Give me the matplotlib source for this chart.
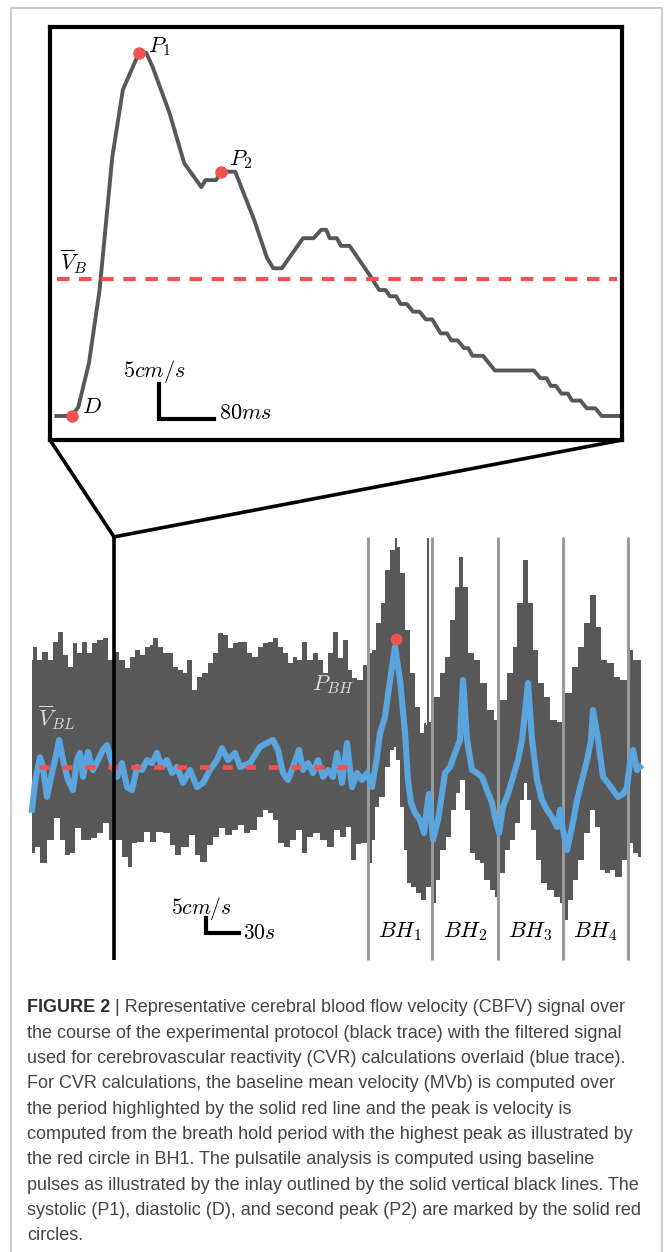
import matplotlib.pyplot as plt
import numpy as np
from matplotlib.patches import ConnectionPatch, Rectangle

plt.rcParams['mathtext.fontset'] = 'cm'

# single baseline pulse shown in the inlay (time in ms, velocity in cm/s)
pulse_t = [-22.7, 0, 9.3, 24.7, 40.1, 58.6, 74.0, 86.4, 97.5, 107.9, 117.1, 141.8, 163.3, 188.1, 194.2,
           209.6, 217.0, 237.4, 265.0, 283.6, 292.8, 305.2, 336.0, 351.4, 362.5, 369.9, 374.8, 385.3, 391.4,
           403.8, 434.6, 446.8, 456.1, 462.3, 471.6, 477.7, 487.0, 496.1, 505.5, 514.6, 523.9, 536.3, 545.5,
           551.7, 560.9, 570.2, 576.3, 582.5, 597.8, 615.1, 671.9, 681.2, 690.3, 696.4, 703.9, 711.9, 721.2,
           727.3, 739.6, 748.9, 761.2, 770.5, 795.1]
pulse_v = [40.0, 40.0, 41.3, 47.6, 58.0, 77.0, 86.6, 89.4, 91.9, 91.9, 89.9, 83.3, 76.1, 72.7, 73.7,
           73.7, 74.9, 74.9, 68.0, 62.6, 61.1, 61.1, 65.4, 65.4, 66.6, 66.6, 65.4, 65.4, 64.3,
           64.3, 59.9, 58.0, 58.0, 57.1, 57.1, 56.0, 56.0, 54.9, 54.9, 53.8, 53.8, 51.8, 51.8,
           50.8, 50.8, 49.7, 49.7, 48.6, 48.6, 46.5, 46.5, 45.4, 45.4, 44.3, 44.3, 43.2, 43.2,
           42.2, 42.2, 41.1, 41.1, 40.0, 40.0]
pulse_mean = 59.6
pulse_span = [-21.8, 792.7]
mark_t = [0.0, 97.5, 217.0]
mark_v = [40.0, 91.9, 74.9]
mark_names = ['$D$', '$P_1$', '$P_2$']

# whole protocol: envelope of the raw CBFV trace (time in s, velocity in cm/s)
up_t = [0.9, 3.6, 8.2, 12.7, 17.3, 21.8, 26.4, 30.9, 35.5, 40.0, 44.5, 49.1, 53.6, 58.2, 62.7, 67.3, 71.8,
        78.2, 82.7, 87.3, 91.8, 96.4, 100.9, 105.5, 110.0, 112.7, 117.3, 121.8, 126.4, 130.9, 135.5, 140.0,
        144.5, 149.1, 153.6, 158.2, 162.7, 167.3, 171.8, 176.4, 180.9, 185.5, 190.0, 194.5, 199.1, 203.6,
        208.2, 212.7, 217.3, 221.8, 226.4, 230.9, 235.5, 240.0, 244.5, 249.1, 253.6, 258.2, 262.7, 267.3,
        271.8, 276.4, 280.9, 285.5, 290.0, 294.5, 299.1, 303.6,
        308.2, 310.9, 315.5, 320.0, 324.5, 329.1, 331.8, 333.6, 337.3, 341.8, 346.4, 350.9, 355.5, 358.2,
        360.0, 360.3, 361.8, 362.1, 364.5, 369.1, 373.6, 378.2, 382.7, 387.3, 390.9, 394.5, 399.1, 405.5,
        410.9, 417.3, 423.6, 429.1, 435.5, 440.0, 444.5, 449.1, 453.6, 458.2, 462.7, 469.1, 474.5, 482.7,
        488.2, 494.5, 499.1, 505.5, 510.9, 515.5, 520.0, 526.4, 532.7, 538.2, 544.5, 549.1, 554.5]
up_v = [95.7, 100.0, 95.7, 98.3, 95.7, 101.7, 105.0, 97.3, 93.3, 101.3, 98.0, 101.7, 98.0, 101.3, 102.3, 103.0, 95.7,
        98.3, 95.7, 93.0, 96.7, 99.0, 97.3, 100.0, 100.7, 103.0, 100.0, 98.0, 98.0, 93.3, 92.3, 91.3,
        95.7, 85.7, 90.0, 91.3, 94.7, 98.0, 104.7, 104.0, 99.7, 101.3, 101.7, 101.7, 98.0, 96.7,
        100.0, 101.3, 101.7, 103.0, 100.0, 98.0, 94.7, 96.7, 95.7, 101.7, 95.7, 98.0, 95.7, 91.3,
        98.0, 105.0, 96.3, 102.3, 92.3, 89.7, 89.0, 94.0,
        98.0, 99.0, 108.0, 114.7, 125.7, 132.3, 136.3, 133.3, 124.7, 105.7, 91.3, 80.0, 71.3, 74.7,
        74.0, 136.3, 136.3, 75.0, 75.7, 83.3, 91.3, 96.7, 109.0, 120.0, 130.0, 120.0, 98.0, 95.7,
        88.0, 79.0, 75.7, 82.3, 91.3, 100.0, 114.7, 129.0, 114.7, 99.0, 88.0, 83.3, 75.7, 75.0,
        84.7, 93.3, 100.0, 108.0, 117.3, 106.7, 95.7, 94.7, 90.0, 89.0, 99.0, 95.7, 95.7]
lo_t = [0.9, 5.5, 10.9, 17.3, 24.5, 29.1, 33.6, 38.2, 42.7, 47.3, 51.8, 56.4, 62.7, 69.1, 73.6, 79.1, 85.5,
        90.0, 94.5, 99.1, 105.5, 110.9, 115.5, 123.6, 129.1, 133.6, 140.0, 146.4, 150.9, 156.4, 162.7, 169.1,
        173.6, 179.1, 185.5, 190.0, 196.4, 201.8, 208.2, 212.7, 217.3, 221.8, 226.4, 232.7, 238.2, 244.5,
        249.1, 253.6, 260.0, 265.5, 271.8, 278.2, 283.6, 288.2, 292.7, 297.3, 301.8,
        308.2, 310.9, 314.5, 319.1, 323.6, 328.2, 330.9, 333.6, 337.3, 340.0, 342.7, 347.3, 351.8, 356.4,
        360.9, 365.5, 370.0, 374.5, 379.1, 383.6, 388.2, 391.8, 396.4, 400.9, 405.5, 410.0, 414.5, 419.1,
        423.6, 428.2, 432.7, 437.3, 441.8, 446.4, 449.1, 451.8, 456.4, 460.9, 465.5, 471.8, 478.2, 482.7,
        485.5, 490.0, 494.5, 499.1, 505.5, 510.0, 514.5, 519.1, 523.6, 528.2, 533.6, 540.0, 544.5, 549.1,
        554.5]
lo_v = [31.3, 33.3, 28.0, 35.7, 43.0, 35.7, 30.7, 31.3, 39.7, 35.7, 35.7, 36.3, 38.0, 41.3, 35.7, 35.7, 30.0,
        26.7, 34.7, 35.0, 38.3, 35.0, 38.3, 38.0, 34.0, 30.7, 33.3, 37.3, 30.7, 28.3, 34.0, 36.7,
        39.7, 37.3, 39.0, 40.7, 38.0, 39.0, 43.3, 45.7, 44.7, 42.3, 34.7, 33.3, 35.7, 39.0,
        31.3, 36.7, 38.0, 35.7, 33.3, 39.0, 36.7, 40.0, 29.0, 34.3, 34.7,
        28.0, 35.7, 46.7, 50.0, 60.0, 65.7, 66.7, 62.3, 46.7, 32.3, 21.3, 20.0, 18.0, 15.7,
        20.0, 14.7, 22.3, 32.3, 36.7, 45.7, 51.3, 55.7, 45.7, 31.3, 29.0, 28.0, 22.3, 19.0,
        16.7, 24.7, 32.3, 35.7, 41.3, 49.0, 54.7, 49.0, 39.0, 29.0, 21.3, 19.0, 16.7, 14.7,
        9.0, 15.7, 22.3, 29.0, 38.0, 45.7, 40.0, 25.7, 24.7, 25.7, 23.3, 29.0, 34.7, 31.3,
        30.0]

# filtered (blue) trace used for the CVR calculations
filt_t = [0.9, 3.6, 8.2, 10.9, 14.5, 19.1, 21.8, 25.5, 29.1, 33.6, 38.2, 41.8, 44.5, 47.3, 51.8, 56.4, 60.9,
          65.5, 69.1, 73.6, 78.2, 82.7, 87.3, 91.8, 96.4, 100.9, 105.5, 110.0, 114.5, 119.1, 123.6, 128.2,
          132.7, 138.2, 144.5, 150.9, 156.4, 162.7, 169.1, 173.6, 179.1, 185.5, 190.0, 199.1, 208.2, 214.5,
          220.0, 224.5, 229.1, 233.6, 238.2, 243.6, 247.3, 251.8, 256.4, 260.9, 265.5, 270.0, 274.5, 278.2,
          282.7, 287.3, 291.8, 296.4, 300.9, 305.5, 310.0, 314.5, 317.3, 321.8, 326.4, 330.9, 335.5, 340.0,
          342.7, 345.5, 349.1, 353.6, 357.3, 360.0, 361.8, 365.5, 370.0, 376.4, 380.9, 385.5, 390.0, 392.7,
          396.4, 400.9, 405.5, 410.0, 414.5, 419.1, 421.8, 425.5, 429.1, 433.6, 438.2, 442.7, 446.4, 451.8,
          455.5, 460.0, 464.5, 469.1, 473.6, 478.2, 480.9, 483.6, 487.3, 491.8, 496.4, 500.9, 505.5, 509.1,
          510.9, 515.5, 520.0, 524.5, 529.1, 533.6, 538.2, 541.8, 544.5, 547.3, 550.9, 553.6]
filt_v = [45.7, 54.7, 63.3, 60.0, 50.0, 58.0, 62.3, 69.0, 62.3, 55.7, 52.3, 62.3, 64.7, 56.7, 65.0, 59.0, 62.3,
          65.7, 67.3, 61.3, 56.7, 61.3, 53.3, 52.3, 60.0, 59.0, 62.3, 61.3, 64.7, 60.0, 62.3, 58.0,
          60.0, 54.7, 59.0, 53.3, 54.7, 59.0, 62.3, 66.3, 62.3, 64.7, 60.0, 61.3, 66.7, 68.0,
          69.0, 65.7, 58.0, 55.7, 60.0, 65.7, 59.0, 61.3, 58.0, 62.3, 56.7, 59.0, 56.7, 64.7,
          54.7, 68.0, 53.3, 58.0, 55.7, 58.0, 53.3, 63.3, 71.3, 76.7, 89.0, 100.0, 89.0, 71.3,
          55.7, 48.0, 44.7, 42.3, 38.0, 46.7, 51.0, 35.7, 42.3, 58.0, 60.0, 64.7, 69.0, 89.0,
          69.0, 59.0, 58.0, 56.7, 52.3, 48.0, 43.3, 38.0, 46.7, 51.0, 56.7, 62.3, 69.0, 88.0,
          69.0, 55.7, 49.0, 45.7, 43.3, 40.0, 45.7, 39.0, 32.3, 40.0, 49.0, 55.7, 62.3, 69.0,
          79.0, 69.0, 56.7, 54.7, 52.3, 50.0, 51.0, 53.3, 61.3, 65.7, 59.0, 60.0]

baseline_mean = 60.0
baseline_span = [7.3, 299.0]
bh_edges = [306.4, 364.5, 424.5, 483.6, 542.7]
bh_names = ['$BH_1$', '$BH_2$', '$BH_3$', '$BH_4$']
peak_bh = (331.8, 102.7)
inlay_t = 75.5

caption = [
    "the course of the experimental protocol (black trace) with the filtered signal",
    "used for cerebrovascular reactivity (CVR) calculations overlaid (blue trace).",
    "For CVR calculations, the baseline mean velocity (MVb) is computed over",
    "the period highlighted by the solid red line and the peak is velocity is",
    "computed from the breath hold period with the highest peak as illustrated by",
    "the red circle in BH1. The pulsatile analysis is computed using baseline",
    "pulses as illustrated by the inlay outlined by the solid vertical black lines. The",
    "systolic (P1), diastolic (D), and second peak (P2) are marked by the solid red",
    "circles.",
]

GREY = '#585858'
BLUE = '#5aa5de'
RED = '#ef5350'

W, H = 664, 1252
fig = plt.figure(figsize=(W / 100, H / 100), dpi=100)


def box(x0, y0, x1, y1):
    return [x0 / W, 1 - y1 / H, (x1 - x0) / W, (y1 - y0) / H]


def steps_mid(t, v):
    # same vertices matplotlib uses for drawstyle='steps-mid', so the band gets square edges
    t = np.asarray(t, float)
    edges = np.concatenate([[t[0]], (t[1:] + t[:-1]) / 2, [t[-1]]])
    return np.repeat(edges, 2)[1:-1], np.repeat(np.asarray(v, float), 2)


# ---------- full recording ----------
ax = fig.add_axes(box(20, 530, 650, 965))
ax.set_xlim(-10, 562.7)
ax.set_ylim(-6, 139)
ax.axis('off')

ux, uy = steps_mid(up_t, up_v)
lx, ly = steps_mid(lo_t, lo_v)
ax.fill(np.concatenate([ux, lx[::-1]]), np.concatenate([uy, ly[::-1]]), color=GREY, lw=0, zorder=1)
v_top, v_bot = 136.7, -4.3
ax.vlines(bh_edges, v_bot, v_top, color='#9a9a9a', lw=2.2, zorder=2)
ax.plot(filt_t, filt_v, color=BLUE, lw=4.4, solid_joinstyle='round', zorder=3)
ax.plot(baseline_span, [baseline_mean] * 2, color=RED, lw=3.3, ls=(0, (2.2, 2.8)), zorder=4)
ax.plot(*peak_bh, 'o', color=RED, ms=7.5, zorder=5)
ax.vlines(inlay_t, v_bot, v_top, color='black', lw=2.6, zorder=6)

for i, name in enumerate(bh_names):
    ax.text((bh_edges[i] + bh_edges[i + 1]) / 2, 5, name, ha='center', va='center', fontsize=16)
ax.text(6.4, 76.3, r'$\overline{V}_{BL}$', color='#dddddd', fontsize=16, va='center')
ax.text(293.5, 87.3, r'$P_{BH}$', color='#dddddd', fontsize=16, va='center', ha='right')

# scale bar 5 cm/s x 30 s
ax.plot([159, 159, 189], [9.7, 4.7, 4.7], color='black', lw=3, solid_joinstyle='miter', zorder=6)
ax.text(155, 13.0, '$5cm/s$', ha='center', va='center', fontsize=15.5)
ax.text(193, 4.8, '$30s$', ha='left', va='center', fontsize=15.5)

# ---------- inlay pulse ----------
ai = fig.add_axes(box(50, 27, 622, 440))
ai.set_xlim(-32, 800)
ai.set_ylim(36.57, 95.57)
ai.set_xticks([])
ai.set_yticks([])
for s in ai.spines.values():
    s.set_linewidth(3)

ai.plot(pulse_t, pulse_v, color=GREY, lw=2.8, zorder=2)
ai.plot(pulse_span, [pulse_mean] * 2, color=RED, lw=3, ls=(0, (3.0, 2.3)), zorder=3)
ai.plot(mark_t, mark_v, 'o', color=RED, ms=8, zorder=4)
ai.text(14.5, 41.3, mark_names[0], fontsize=16, va='center')
ai.text(110.5, 92.7, mark_names[1], fontsize=16, va='center')
ai.text(228.0, 76.6, mark_names[2], fontsize=16, va='center')
ai.text(-17.5, 62.0, r'$\overline{V}_B$', fontsize=16, va='center')

# scale bar 5 cm/s x 80 ms
ai.plot([126.5, 126.5, 206.5], [44.6, 39.6, 39.6], color='black', lw=3, solid_joinstyle='miter', zorder=4)
ai.text(119, 46.4, '$5cm/s$', ha='center', va='center', fontsize=16)
ai.text(214, 40.4, '$80ms$', ha='left', va='center', fontsize=16)

# zoom connectors from the inlay box to the line in the recording
for corner in [(0, 0), (1, 0)]:
    con = ConnectionPatch(xyA=corner, coordsA=ai.transAxes, xyB=(inlay_t, v_top), coordsB=ax.transData,
                          color='black', lw=2.6)
    fig.add_artist(con)

# light frame around the figure panel
fig.add_artist(Rectangle((11 / W, -0.01), (662 - 11) / W, 1.01 - 8 / H,
                         transform=fig.transFigure, fill=False, ec='#c4c4c4', lw=1.2))

# ---------- caption ----------
cap_font = ['Liberation Sans', 'DejaVu Sans']
cap_size = 13
x0 = 27 / W
y_first = 1008
step = 25.3
head = fig.text(x0, 1 - y_first / H, 'FIGURE 2', fontsize=cap_size, family=cap_font,
                weight='bold', color='#2e2e2e', va='center')
fig.canvas.draw()
bb = head.get_window_extent()
fig.text(bb.x1 / W, 1 - y_first / H, ' | Representative cerebral blood flow velocity (CBFV) signal over',
         fontsize=cap_size, family=cap_font, color='#444444', va='center')
for i, line in enumerate(caption):
    fig.text(x0, 1 - (y_first + step * (i + 1)) / H, line, fontsize=cap_size, family=cap_font,
             color='#444444', va='center')

fig.savefig('out.png', dpi=100)
